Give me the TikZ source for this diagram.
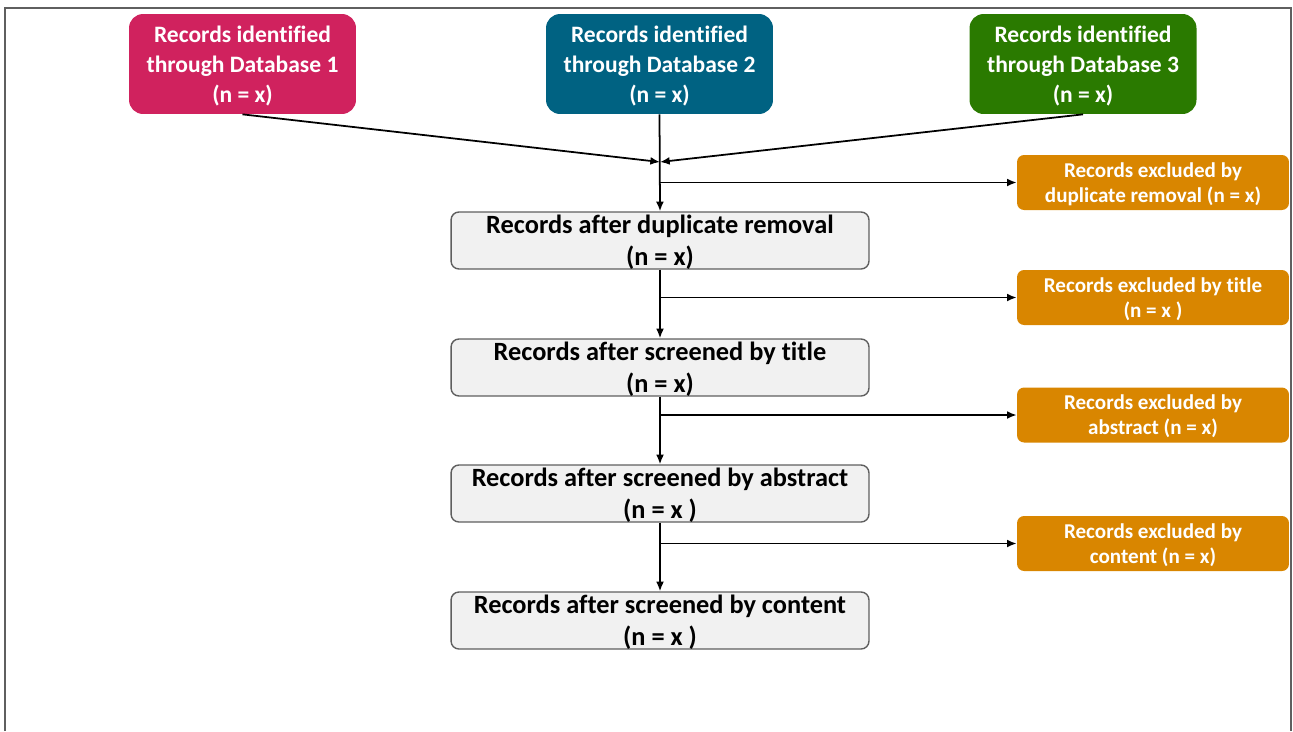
\documentclass[tikz,border=0pt]{standalone}
\usepackage{fontspec}
\setmainfont{Carlito}[Ligatures=CommonOff]
\usetikzlibrary{arrows.meta, positioning}
\definecolor{dbred}{RGB}{208,34,94}
\definecolor{dbblue}{RGB}{0,98,130}
\definecolor{dbgreen}{RGB}{42,122,0}
\definecolor{exorange}{RGB}{217,134,0}
\definecolor{stagefill}{RGB}{241,241,241}
\definecolor{stageline}{RGB}{95,95,95}

\begin{document}
\begin{tikzpicture}
  [x=0.02cm, y=-0.02cm, >={Latex[length=5.5pt, width=4.5pt]},
   dbbox/.style={rounded corners=8pt, text=white, font=\fontsize{13.4}{17}\selectfont\bfseries,
     align=center, minimum width=4.54cm, minimum height=2cm, inner sep=0pt, text depth=0pt},
   stagebox/.style={rounded corners=4.5pt, draw=stageline, fill=stagefill, thick,
     font=\fontsize{15}{18.2}\selectfont\bfseries, align=center,
     minimum width=8.36cm, minimum height=1.14cm, inner sep=0pt, text depth=0pt},
   exbox/.style={rounded corners=4pt, fill=exorange, text=white,
     font=\fontsize{12}{14.2}\selectfont\bfseries, align=center,
     minimum width=5.44cm, minimum height=1.1cm, inner sep=0pt, text depth=0pt},
   flow/.style={->, line width=1pt}]
  \useasboundingbox (0,0) rectangle (1293,731);
  \draw [stageline, line width=1.2pt] (5,731) -- (5,8) -- (1291,8) -- (1291,731);

  % databases
  \foreach \i/\x/\c in {1/242.5/dbred, 2/659.5/dbblue, 3/1083/dbgreen}{
    \node (db\i) at (\x, 64) [dbbox, fill=\c] {Records identified\\through Database \i\\(n = x)};
  }

  % screening stages
  \node (s1) at (660, 240.5) [stagebox] {Records after duplicate removal\\(n = x)};
  \node (s2) at (660, 367.5) [stagebox] {Records after screened by title\\(n = x)};
  \node (s3) at (660, 493.5) [stagebox] {Records after screened by abstract\\(n = x )};
  \node (s4) at (660, 620.5) [stagebox] {Records after screened by content\\(n = x )};

  % exclusions
  \node (ex1) at (1153, 182.5) [exbox] {Records excluded by\\duplicate removal (n = x)};
  \node (ex2) at (1153, 297.5) [exbox] {Records excluded by title\\(n = x )};
  \node (ex3) at (1153, 415) [exbox] {Records excluded by\\abstract (n = x)};
  \node (ex4) at (1153, 543.5) [exbox] {Records excluded by\\content (n = x)};

  \coordinate (merge) at (660, 162);
  \coordinate (b1) at (660, 182.5);
  \coordinate (b2) at (660, 297.5);
  \coordinate (b3) at (660, 415);
  \coordinate (b4) at (660, 543.5);

  \draw [flow] (db1.south) to (merge);
  \draw [flow] (db3.south) to (merge);
  \draw [flow] (db2.south) to (s1.north);
  \draw [flow] (s1) to (s2);
  \draw [flow] (s2) to (s3);
  \draw [flow] (s3) to (s4);
  \draw [flow] (b1) to (ex1.west);
  \draw [flow] (b2) to (ex2.west);
  \draw [flow] (b3) to (ex3.west);
  \draw [flow] (b4) to (ex4.west);
\end{tikzpicture}
\end{document}
